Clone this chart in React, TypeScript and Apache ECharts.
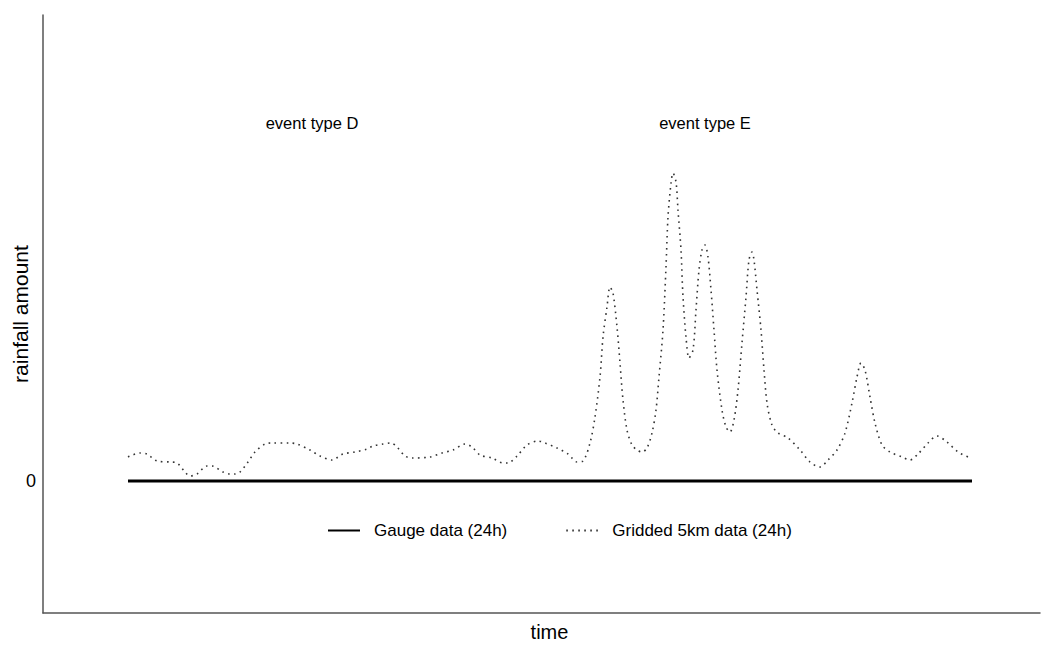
import React, { useEffect, useRef } from "react";
import * as echarts from "echarts";

// time (arbitrary units) and gridded rainfall (arbitrary units)
const gridTime: number[] = [
  8.5, 9.7, 10.4, 11.4, 12.7, 13.4, 14.2, 14.7, 15.4, 16.4, 16.9, 18.0, 18.7, 19.2, 19.7,
  20.5, 21.2, 22.2, 22.9, 24.7, 25.4, 26.7, 27.7, 28.9, 30.0, 31.2, 32.4, 33.0, 34.0, 34.8,
  35.4, 36.2, 36.9, 38.7, 39.9, 41.0, 42.2, 42.9, 43.7, 44.9, 46.0, 46.5, 47.4, 48.4, 49.5,
  50.2, 51.4, 52.5, 53.4, 54.0, 54.7, 55.2, 55.7, 56.0, 56.4, 56.7, 57.0, 57.4, 57.7, 58.0,
  58.4, 58.9, 59.4, 59.9, 60.4, 60.9, 61.3, 61.6, 62.0, 62.3, 62.5, 62.8, 63.0, 63.3, 63.5,
  63.8, 64.0, 64.3, 64.6, 65.0, 65.3, 65.6, 65.9, 66.2, 66.5, 66.8, 67.1, 67.4, 67.9, 68.3,
  68.7, 69.1, 69.5, 69.9, 70.3, 70.6, 70.9, 71.1, 71.4, 71.8, 72.1, 72.4, 72.9, 73.5, 74.5,
  75.7, 76.7, 77.7, 78.5, 79.4, 80.2, 80.9, 81.4, 81.8, 82.2, 82.7, 83.2, 83.9, 84.7, 85.9,
  86.7, 87.5, 88.5, 89.4, 90.4, 91.5, 92.5,
];
const gridRain: number[] = [
  2.4, 2.8, 2.7, 2.0, 1.9, 1.8, 0.9, 0.5, 0.7, 1.5, 1.5, 0.9, 0.7, 0.7, 0.9,
  1.9, 2.9, 3.7, 3.8, 3.8, 3.7, 3.1, 2.5, 2.1, 2.7, 2.9, 3.2, 3.5, 3.7, 3.8,
  3.4, 2.5, 2.3, 2.4, 2.8, 3.1, 3.7, 3.4, 2.6, 2.3, 1.8, 1.8, 2.5, 3.6, 4.0,
  3.8, 3.3, 2.7, 1.9, 2.0, 3.8, 6.4, 10.4, 14.4, 17.4, 19.4, 18.8, 15.4, 11.8, 8.1,
  5.1, 3.6, 3.1, 2.9, 3.3, 4.8, 7.1, 10.4, 15.1, 21.4, 26.4, 29.8, 30.8, 29.9, 27.1,
  23.1, 18.4, 14.4, 12.3, 13.1, 17.1, 21.1, 23.1, 23.6, 22.4, 19.1, 15.1, 11.1, 7.1, 5.4,
  4.9, 6.1, 9.1, 13.8, 18.4, 22.1, 22.9, 22.1, 19.1, 15.1, 11.1, 7.8, 5.6, 4.8, 4.3,
  3.1, 1.9, 1.4, 2.1, 3.1, 4.8, 7.8, 10.4, 11.8, 11.1, 8.4, 5.8, 3.6, 2.9, 2.4,
  2.1, 2.7, 3.8, 4.5, 3.9, 2.9, 2.4,
];
const gaugeTime: number[] = [8.5, 92.9];
const gaugeRain: number[] = [0, 0];
const yTickLabels: number[] = [0];
const seriesNames = ["Gauge data (24h)", "Gridded 5km data (24h)"];
const eventLabels = ["event type D", "event type E"];

export default function App() {
  const ref = useRef<HTMLDivElement>(null);
  useEffect(() => {
    if (!ref.current) return;
    const chart = echarts.init(ref.current, null, { renderer: "svg" });
    const font = "'Liberation Sans', Arial, sans-serif";
    chart.setOption({
      animation: false,
      backgroundColor: "#fff",
      textStyle: { fontFamily: font },
      grid: { left: 43, right: 1, top: 15, bottom: 32, containLabel: false, outerBoundsMode: "none" },
      xAxis: {
        type: "value",
        min: 0,
        max: 99.7,
        name: "time",
        nameLocation: "middle",
        nameGap: 9,
        nameMoveOverlap: false,
        nameTextStyle: { fontSize: 20, color: "#000", fontFamily: font, padding: [0, 0, 0, 16] },
        axisLine: { onZero: false, lineStyle: { color: "#555", width: 1.5 } },
        axisTick: { show: false },
        axisLabel: { show: false },
        splitLine: { show: false },
      },
      yAxis: {
        type: "value",
        min: -13.2,
        max: 46.6,
        name: "rainfall amount",
        nameLocation: "middle",
        nameGap: 12,
        nameMoveOverlap: false,
        nameTextStyle: { fontSize: 21, color: "#000", fontFamily: font },
        axisLine: { show: true, onZero: false, lineStyle: { color: "#555", width: 1.5 } },
        axisTick: { show: false },
        axisLabel: {
          customValues: yTickLabels,
          fontSize: 18,
          color: "#000",
          margin: 7,
          fontFamily: font,
        },
        splitLine: { show: false },
      },
      legend: {
        left: 322,
        top: 517,
        itemWidth: 32,
        itemHeight: 16,
        itemGap: 58,
        itemStyle: { opacity: 0 },
        textStyle: { fontSize: 17, color: "#000", padding: [0, 0, 0, 9], fontFamily: font },
        data: seriesNames,
      },
      graphic: [
        {
          type: "text",
          x: 312,
          y: 123,
          style: { text: eventLabels[0], fontSize: 16.5, fill: "#000", align: "center", verticalAlign: "middle", fontFamily: font },
        },
        {
          type: "text",
          x: 705,
          y: 123,
          style: { text: eventLabels[1], fontSize: 16.5, fill: "#000", align: "center", verticalAlign: "middle", fontFamily: font },
        },
      ],
      series: [
        {
          name: seriesNames[0],
          type: "line",
          symbol: "none",
          data: gaugeTime.map((t, i) => [t, gaugeRain[i]]),
          lineStyle: { color: "#000", width: 3, type: "solid" },
          itemStyle: { color: "#000" },
          z: 3,
        },
        {
          name: seriesNames[1],
          type: "line",
          symbol: "none",
          smooth: 0.3,
          data: gridTime.map((t, i) => [t, gridRain[i]]),
          lineStyle: { color: "#333", width: 1.6, type: [1.6, 4.4] },
          itemStyle: { color: "#333" },
          z: 2,
        },
      ],
    });
    return () => chart.dispose();
  }, []);
  return (
    <div
      ref={ref}
      style={{ position: "fixed", left: 0, top: 0, width: 1041, height: 645, background: "#fff" }}
    />
  );
}
